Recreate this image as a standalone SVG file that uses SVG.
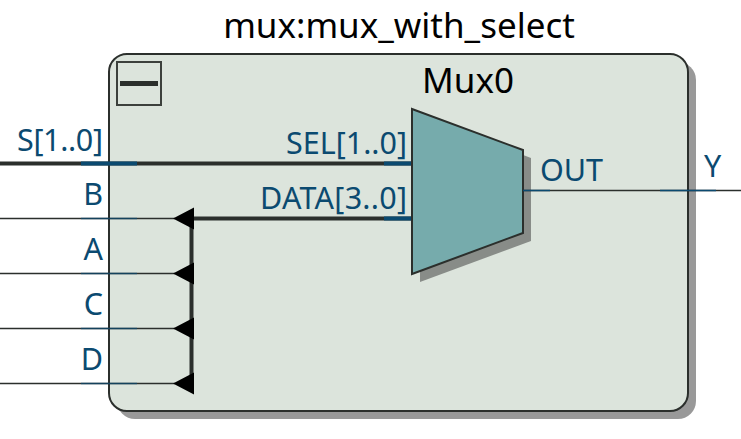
<svg xmlns="http://www.w3.org/2000/svg" width="741" height="439" viewBox="0 0 741 439">
<style>
text{font-family:"Noto Sans","Open Sans","DejaVu Sans",sans-serif}
.t{font-size:35px;fill:#000}
.p{font-size:30.500px;fill:#0b4a70}
.e{text-anchor:end}
.shadow{fill:#999}
.thin{fill:none;stroke:#2b2f2c;stroke-width:1.500}
.thick{fill:none;stroke:#2b2f2c;stroke-width:4}
.bt{fill:none;stroke:#0b4a70;stroke-width:1.500;stroke-opacity:.7}
.bk{fill:none;stroke:#0b4a70;stroke-width:4}
.arr{fill:#000}
</style>
<rect width="741" height="439" fill="#fff"/>
<g id="module">
<rect class="shadow" x="117" y="62" width="579" height="357" rx="18"/>
<rect x="109" y="54" width="579" height="357" rx="18" fill="#dce4dc" stroke="#2b2f2c" stroke-width="2"/>
<text class="t" x="399" y="38" text-anchor="middle">mux:mux_with_select</text>
</g>
<g id="collapse">
<rect x="117" y="62" width="44" height="43" fill="none" stroke="#3c403c" stroke-width="2"/>
<rect x="120" y="81" width="38" height="5" fill="#2b2f2c"/>
</g>
<g id="Mux0">
<polygon class="shadow" points="420,116 531,158 531,241 420,282" style="fill:#888c88"/>
<polygon points="412,109 523,150 523,233 412,274" fill="#76abac" stroke="#2b2f2c" stroke-width="2"/>
<text class="t" x="468" y="93" text-anchor="middle">Mux0</text>
<text class="p e" x="407" y="154">SEL[1..0]</text>
<text class="p" x="260" y="209" textLength="147">DATA[3..0]</text>
<text class="p" x="540" y="181">OUT</text>
</g>
<g id="connectors">
<path class="thick" d="M0 163.500H411"/>
<path class="bk" d="M81 163.500H137M384 163.500H411"/>
<path class="thick" d="M192 218.500H411M191.500 218V383"/>
<path class="bk" d="M384 218.500H411"/>
<path class="thin" d="M0 218.500H175M0 273.500H175M0 328.500H175M0 383.500H175M523 190.500H741"/>
<path class="bt" d="M81 218.500H137M81 273.500H137M81 328.500H137M81 383.500H137"/>
<path class="bt" style="stroke-opacity:1" d="M523 190.500H550M660 190.500H716"/>
<path class="arr" d="M173 218.500L194 207.500V229.500ZM173 273.500L194 262.500V284.500ZM173 328.500L194 317.500V339.500ZM173 383.500L194 372.500V394.500Z"/>
</g>
<g id="ports">
<text class="p" x="17" y="151" textLength="86">S[1..0]</text>
<text class="p e" x="103" y="205">B</text>
<text class="p e" x="103" y="260">A</text>
<text class="p e" x="103" y="315">C</text>
<text class="p e" x="103" y="370">D</text>
<text class="p" x="704" y="177">Y</text>
</g>
</svg>
